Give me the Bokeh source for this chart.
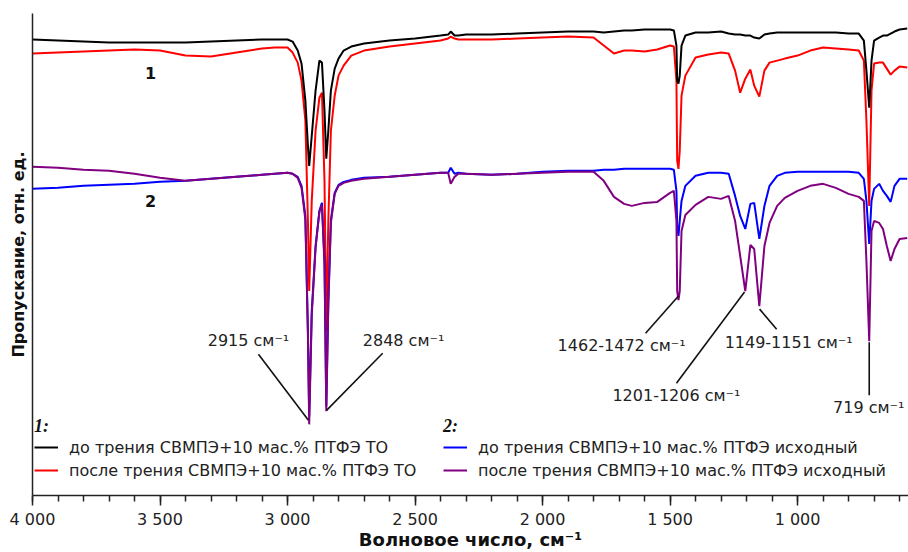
from bokeh.plotting import figure
from bokeh.models import Range1d, FixedTicker, Legend, LegendItem
from bokeh.embed import file_html
from bokeh.resources import INLINE
from bokeh.core.properties import value

# ---------------- data ----------------
wavenumber = [4000, 3900, 3800, 3700, 3600, 3500, 3400, 3300, 3200, 3100, 3050, 3000,
              2980, 2960, 2945, 2930, 2920, 2915, 2905, 2890, 2875, 2865, 2855, 2848, 2840, 2830, 2815, 2800, 2780, 2750, 2700,
              2600, 2500, 2400, 2370, 2360, 2345, 2330, 2300, 2200, 2100, 2000, 1900, 1800,
              1760, 1720, 1680, 1650, 1600, 1550, 1500, 1485, 1475, 1472, 1467, 1462, 1455, 1440,
              1400, 1350, 1300, 1270, 1245, 1225, 1205, 1185, 1170, 1150, 1130, 1110, 1080, 1050, 1000,
              950, 900, 850, 800, 760, 740, 730, 719, 710, 700, 680, 665, 650, 635, 620, 600, 570]

# 1: before friction (black)
before_1 = [455, 454, 453, 452, 452, 452, 452, 453, 454, 455, 455, 455,
            453, 444, 431, 394, 349, 329, 359, 404, 434, 432, 384, 336, 364, 404, 426, 436, 444, 448, 451,
            454, 456, 459, 460, 463, 459, 459, 460, 460, 461, 462, 463, 463,
            462, 463, 464, 464, 465, 465, 465, 464, 449, 414, 411, 419, 449, 459,
            462, 462, 463, 461, 460, 460, 459, 459, 457, 456, 460, 461, 462, 462, 462,
            462, 462, 462, 461, 461, 454, 424, 387, 434, 454, 457, 459, 459, 461, 463, 465, 466]

# 1: after friction (red)
after_1 = [441, 442, 443, 444, 445, 444, 439, 438, 442, 446, 447, 447,
           442, 432, 414, 374, 274, 204, 294, 364, 397, 402, 314, 164, 274, 364, 399, 419, 429, 439, 444,
           448, 451, 454, 456, 458, 456, 455, 455, 455, 456, 457, 458, 457,
           449, 441, 444, 444, 443, 445, 449, 448, 414, 334, 326, 344, 399, 419,
           437, 440, 442, 441, 424, 402, 416, 425, 409, 398, 424, 432, 434, 436, 439,
           444, 447, 446, 445, 444, 434, 374, 289, 404, 431, 432, 432, 426, 420, 424, 428, 427]

# 2: before friction (blue)
before_2 = [306, 307, 309, 310, 311, 313, 314, 316, 318, 320, 321, 322,
            321, 318, 309, 279, 164, 79, 184, 249, 284, 292, 234, 89, 194, 275, 302, 310, 313, 315, 317,
            318, 320, 322, 322, 327, 321, 322, 321, 320, 321, 323, 324, 324,
            325, 325, 326, 326, 326, 326, 326, 325, 304, 269, 259, 274, 294, 309,
            319, 322, 322, 321, 299, 279, 266, 291, 292, 256, 289, 309, 319, 322, 323,
            323, 323, 323, 323, 322, 316, 294, 251, 294, 306, 311, 304, 299, 293, 309, 316, 316]

# 2: after friction (purple)
after_2 = [328, 327, 325, 324, 321, 317, 314, 316, 318, 320, 321, 322,
           321, 317, 307, 275, 160, 71, 180, 247, 283, 290, 230, 84, 190, 272, 301, 309, 312, 314, 316,
           318, 320, 322, 322, 311, 318, 321, 321, 320, 321, 322, 323, 323,
           314, 298, 291, 289, 292, 293, 302, 304, 274, 204, 195, 204, 264, 280,
           290, 298, 296, 299, 274, 239, 204, 250, 246, 189, 249, 272, 289, 297, 304,
           309, 311, 307, 301, 298, 294, 234, 154, 264, 274, 272, 266, 249, 234, 246, 256, 257]

series_labels = ["до трения СВМПЭ+10 мас.% ПТФЭ ТО",
                 "после трения СВМПЭ+10 мас.% ПТФЭ ТО",
                 "до трения СВМПЭ+10 мас.% ПТФЭ исходный",
                 "после трения СВМПЭ+10 мас.% ПТФЭ исходный"]
series_colors = ["#000000", "#ff0000", "#0000ff", "#800080"]

major_ticks = [4000, 3500, 3000, 2500, 2000, 1500, 1000]
tick_labels = ["4 000", "3 500", "3 000", "2 500", "2 000", "1 500", "1 000"]

x_title = "Волновое число, см⁻¹"
y_title = "Пропускание, отн. ед."

# peak annotations: leader line (peak end -> label end) and label
ann_text = ["2915 см⁻¹", "2848 см⁻¹", "1462-1472 см⁻¹", "1201-1206 см⁻¹", "1149-1151 см⁻¹", "719 см⁻¹"]
ann_peak_x = [2918, 2847, 1467, 1208, 1149, 719]
ann_peak_y = [75, 85, 199, 203, 186, 153]
ann_end_x = [3114, 2627, 1596, 1475, 1082, 719]
ann_end_y = [141, 142, 162, 112, 166, 100]
ann_text_x = [3153, 2545, 1690, 1475, 1035, 721]
ann_text_y = [155, 155, 150, 100, 153, 88]

curve_num = ["1", "2"]
curve_num_x = [3537, 3537]
curve_num_y = [422, 294]

FONT = "DejaVu Sans"

# ---------------- figure ----------------
p = figure(width=908, height=552, output_backend="svg", toolbar_location=None,
           x_range=Range1d(4000, 565), y_range=Range1d(0, 481),
           min_border_left=32, min_border_right=0, min_border_top=13, min_border_bottom=56)
p.grid.visible = False
p.outline_line_color = None
p.background_fill_color = "white"
p.border_fill_color = "white"

xa = p.xaxis[0]
xa.ticker = FixedTicker(ticks=major_ticks, minor_ticks=list(range(600, 4001, 100)))
xa.major_label_overrides = {t: l for t, l in zip(major_ticks, tick_labels)}
xa.major_tick_out = 10
xa.major_tick_in = 0
xa.minor_tick_out = 6
xa.minor_tick_in = 0
xa.axis_line_width = 1.5
xa.axis_line_color = "#222222"
xa.major_tick_line_color = "#222222"
xa.minor_tick_line_color = "#222222"
xa.major_tick_line_width = 1.5
xa.minor_tick_line_width = 1.5
xa.major_label_text_font = FONT
xa.major_label_text_font_size = "16px"
xa.major_label_text_color = "#222222"
xa.major_label_standoff = 4
xa.axis_label = x_title
xa.axis_label_text_font = FONT
xa.axis_label_text_font_size = "18px"
xa.axis_label_text_font_style = "bold"
xa.axis_label_text_color = "#111111"
xa.axis_label_standoff = -3

ya = p.yaxis[0]
ya.ticker = FixedTicker(ticks=[])
ya.major_tick_line_color = None
ya.minor_tick_line_color = None
ya.major_label_text_font_size = "0px"
ya.axis_line_width = 1.5
ya.axis_line_color = "#222222"
ya.axis_label = y_title
ya.axis_label_text_font = FONT
ya.axis_label_text_font_size = "16px"
ya.axis_label_text_font_style = "bold"
ya.axis_label_text_color = "#111111"
ya.axis_label_standoff = 5

# spectra
order = [1, 0, 2, 3]
all_series = [before_1, after_1, before_2, after_2]
rend = {}
for i in order:
    rend[i] = p.line(wavenumber, all_series[i], line_color=series_colors[i], line_width=2)

# annotation leader lines and labels
p.segment(x0=ann_peak_x, y0=ann_peak_y, x1=ann_end_x, y1=ann_end_y, line_color="#111111", line_width=1.6)
p.text(x=ann_text_x, y=ann_text_y, text=ann_text, text_font=value(FONT), text_font_size="16px",
       text_color="#222222", text_align="center", text_baseline="middle")
p.text(x=curve_num_x, y=curve_num_y, text=curve_num, text_font=value(FONT), text_font_size="16px",
       text_font_style="bold", text_color="#111111", text_align="center", text_baseline="middle")

def make_legend(title, items, loc):
    return Legend(items=items, location=loc, title=title, orientation="vertical",
                  title_text_font="Liberation Serif", title_text_font_style="bold italic",
                  title_text_font_size="18px", title_text_color="#111111", title_standoff=0,
                  label_text_font=FONT, label_text_font_size="16px", label_text_color="#222222",
                  label_standoff=11, glyph_width=24, glyph_height=20, label_height=20,
                  spacing=3, padding=4, margin=0, border_line_color=None, background_fill_alpha=0)

leg1 = make_legend("1:", [LegendItem(label=series_labels[0], renderers=[rend[0]]),
                          LegendItem(label=series_labels[1], renderers=[rend[1]])], (2, 15))
leg2 = make_legend("2:", [LegendItem(label=series_labels[2], renderers=[rend[2]]),
                          LegendItem(label=series_labels[3], renderers=[rend[3]])], (411, 15))
p.add_layout(leg1)
p.add_layout(leg2)

open("out.html", "w").write(file_html(p, INLINE))
